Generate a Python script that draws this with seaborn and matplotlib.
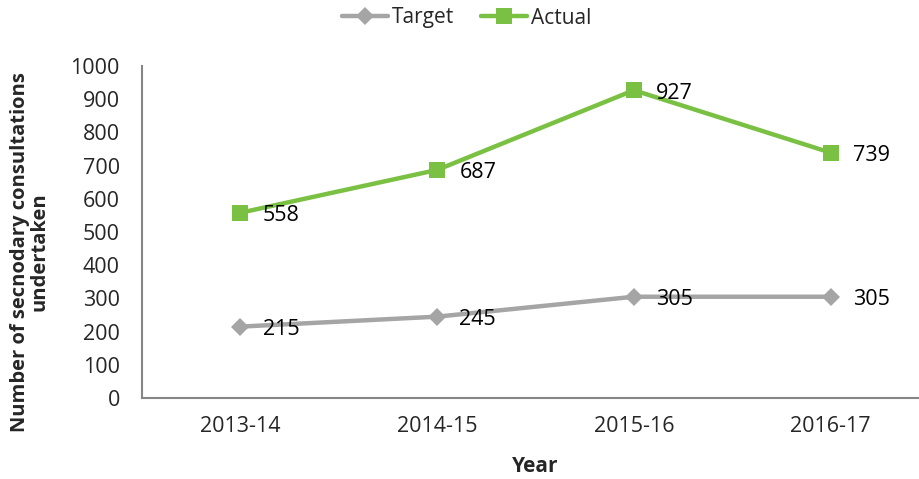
import matplotlib
matplotlib.use("Agg")
import matplotlib.pyplot as plt
import seaborn as sns
import pandas as pd

# data
years = ["2013-14", "2014-15", "2015-16", "2016-17"]
target = [215, 245, 305, 305]
actual = [558, 687, 927, 739]

sns.set_style("white")
plt.rcParams['font.family'] = ['Open Sans', 'DejaVu Sans']

GRAY = "#A5A5A5"
GREEN = "#7AC143"
AXIS = "#868686"

df = pd.DataFrame({
    "Year": years * 2,
    "value": target + actual,
    "series": ["Target"] * len(years) + ["Actual"] * len(years),
})
df["pos"] = [years.index(y) for y in df["Year"]]

fig = plt.figure(figsize=(9.2, 4.79), dpi=100)
ax = fig.add_axes([142 / 920, 81 / 479, 787 / 920, 332 / 479])

sns.lineplot(data=df, x="pos", y="value", hue="series", style="series",
             palette={"Target": GRAY, "Actual": GREEN},
             markers={"Target": "D", "Actual": "s"}, dashes=False,
             markersize=11, linewidth=3.2, markeredgewidth=0,
             ax=ax, legend=False)
# diamond a touch smaller than square
for ln in ax.lines:
    if ln.get_marker() == "D":
        ln.set_markersize(9)

for name, vals in (("Target", target), ("Actual", actual)):
    for i, v in enumerate(vals):
        ax.annotate(str(v), (i, v), xytext=(16, -2), textcoords="offset points",
                    ha="left", va="center", fontsize=15.5, color="black")

ax.set_xlim(-0.5, 3.5)
ax.set_ylim(0, 1000)
ax.set_yticks(range(0, 1001, 100))
ax.set_xticks(range(len(years)))
ax.set_xticklabels(years)
ax.set_xticks([-0.5, 0.5, 1.5, 2.5, 3.5], minor=True)
ax.tick_params(axis="x", which="major", length=0, pad=13, labelsize=15.5)
ax.tick_params(axis="x", which="minor", length=6, width=1.2, color=AXIS, direction="out")
ax.tick_params(axis="y", length=6, width=1.2, color=AXIS, direction="out", pad=10, labelsize=15.5)

for s in ("top", "right"):
    ax.spines[s].set_visible(False)
for s in ("left", "bottom"):
    ax.spines[s].set_color(AXIS)
    ax.spines[s].set_linewidth(1.5)

ax.set_xlabel("Year", fontsize=15, fontweight="bold", labelpad=14)
ax.set_ylabel("")
fig.text(30 / 920, 1 - 252 / 479, "Number of secnodary consultations\nundertaken",
         rotation=90, ha="center", va="center", fontsize=14.5, fontweight="bold",
         linespacing=0.95)

handles = [
    plt.Line2D([], [], color=GRAY, lw=3.2, marker="D", markersize=9, markeredgewidth=0),
    plt.Line2D([], [], color=GREEN, lw=3.2, marker="s", markersize=11, markeredgewidth=0),
]
fig.legend(handles, ["Target", "Actual"], loc="center", bbox_to_anchor=(467 / 920, 1 - 18 / 479),
           ncol=2, frameon=False, fontsize=15, handlelength=2.2, handletextpad=0.2,
           columnspacing=1.3)

fig.savefig("out.png", dpi=100)
